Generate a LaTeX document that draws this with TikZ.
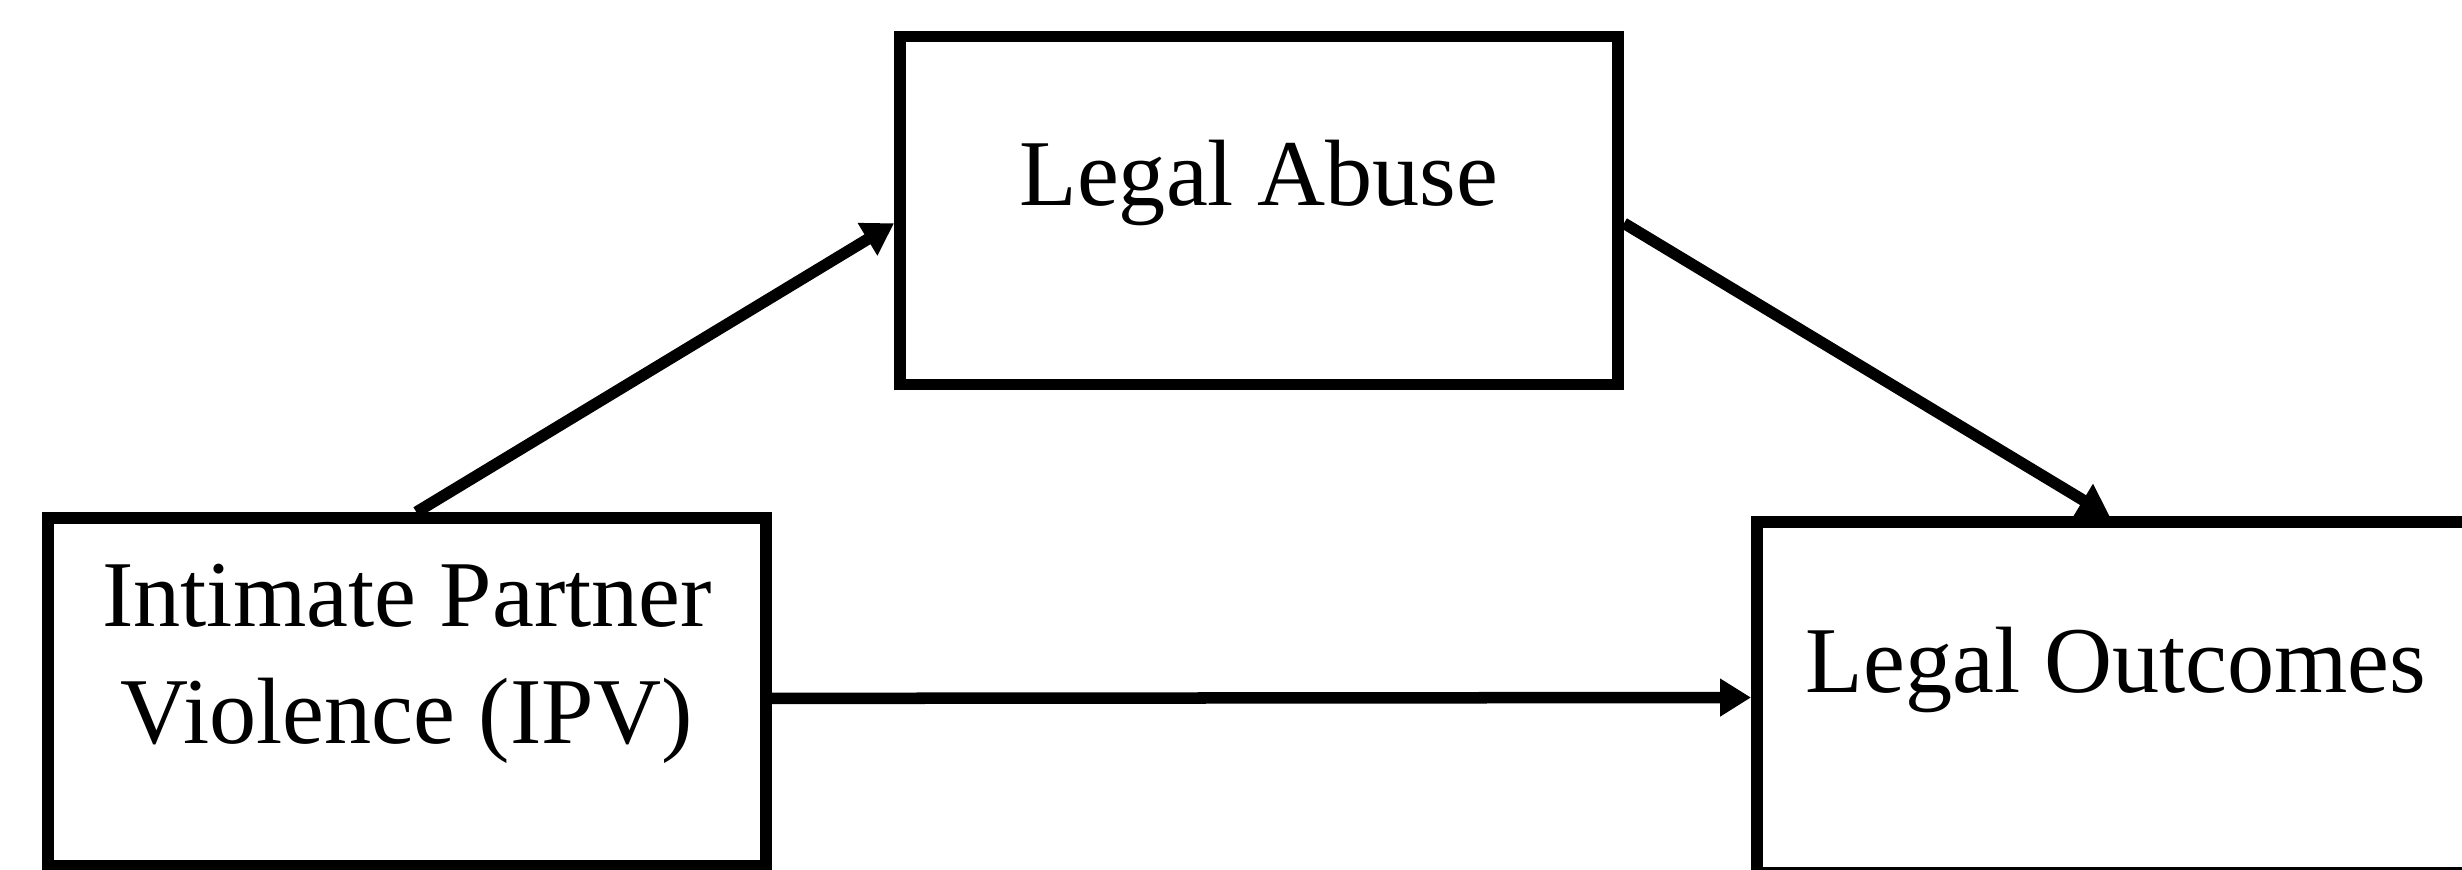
\documentclass[tikz,border=0pt]{standalone}
\usepackage{fontspec}
\setmainfont{Liberation Serif}
\usetikzlibrary{arrows.meta}

\tikzset{
  box/.style={draw, rectangle, line width=0.115cm, minimum width=7.18cm, minimum height=3.48cm,
    align=center, text depth=0.76cm, font=\fontsize{26.8pt}{33.3pt}\selectfont},
}

\begin{document}
\begin{tikzpicture}[x=0.01cm, y=-0.01cm, line width=0.115cm, >={Triangle[length=0.31cm,width=0.36cm]}]
        \useasboundingbox (0,0) rectangle (2462,869);
        \clip (0,0) rectangle (2462,869);

        \node[box] (ipv) at (407,692) {Intimate Partner\\Violence (IPV)};
        \node[box] (abuse) at (1259,210.5) {Legal Abuse};
        \node[box, minimum height=3.51cm] (outcomes) at (2116,697.5) {Legal Outcomes};

        \draw (ipv.87) edge[->] (abuse.182);
        \draw (abuse.358) edge[->] (outcomes.92);
        \draw (ipv.359) edge[->] (outcomes.180);
\end{tikzpicture}
\end{document}
